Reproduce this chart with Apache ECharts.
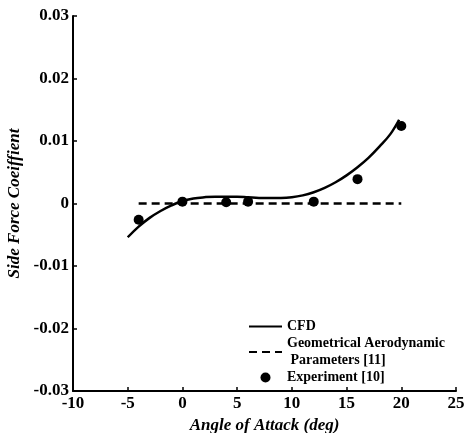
<!DOCTYPE html>
<html>
<head>
<meta charset="utf-8">
<script src="https://cdn.jsdelivr.net/npm/echarts@6/dist/echarts.min.js"></script>
<style>
html,body{margin:0;padding:0;background:#fff;}
#chart{width:466px;height:433px;}
</style>
</head>
<body>
<div id="chart"></div>
<script>
// CFD curve
const cfdAlpha = [-5,-4,-3,-2,-1,0,1,2,3,4,5,6,7,8,9,10,11,12,13,14,15,16,17,18,19,19.8];
const cfdCy = [-0.0054,-0.0037,-0.0023,-0.0012,-0.0003,0.0004,0.0008,0.0010,0.0011,0.0011,0.0011,0.0010,0.0009,0.0009,0.0009,0.0010,0.0013,0.0018,0.0025,0.0034,0.0045,0.0058,0.0073,0.0091,0.0111,0.0134];
// Geometrical aerodynamic parameters
const geoAlpha = [-4, 20];
const geoCy = [0, 0];
// Experiment
const expAlpha = [-4, 0, 4, 6, 12, 16, 20];
const expCy = [-0.0026, 0.0003, 0.0002, 0.0003, 0.0003, 0.0039, 0.0124];

const xTicks = [-10,-5,0,5,10,15,20,25];
const yTicks = [-0.03,-0.02,-0.01,0,0.01,0.02,0.03];

const FONT = 'Liberation Serif';
const chart = echarts.init(document.getElementById('chart'));
const zip = (a,b)=>a.map((v,i)=>[v,b[i]]);

chart.setOption({
  animation:false,
  backgroundColor:'#fff',
  grid:{left:73,right:10,top:16,bottom:42,outerBoundsMode:'none',containLabel:false},
  xAxis:{
    type:'value',min:-10,max:25,interval:5,
    axisLine:{show:true,onZero:false,lineStyle:{color:'#000',width:2}},
    axisTick:{show:true,inside:true,length:4,lineStyle:{color:'#000',width:1.5}},
    splitLine:{show:false},
    axisLabel:{color:'#000',fontFamily:FONT,fontWeight:'bold',fontSize:17,margin:4,
      formatter:v=>String(v)},
    name:'Angle of Attack (deg)',nameLocation:'middle',nameGap:24,
    nameTextStyle:{color:'#000',fontFamily:FONT,fontWeight:'bold',fontStyle:'italic',fontSize:17}
  },
  yAxis:{
    type:'value',min:-0.03,max:0.03,interval:0.01,
    axisLine:{show:true,onZero:false,lineStyle:{color:'#000',width:2}},
    axisTick:{show:true,inside:true,length:4,lineStyle:{color:'#000',width:1.5}},
    splitLine:{show:false},
    axisLabel:{color:'#000',fontFamily:FONT,fontWeight:'bold',fontSize:17,margin:4,
      formatter:v=>{const r=Math.round(v*100)/100; return r===0?'0':r.toFixed(2);}},
    name:'Side Force Coeiffient',nameLocation:'middle',nameGap:47,
    nameTextStyle:{color:'#000',fontFamily:FONT,fontWeight:'bold',fontStyle:'italic',fontSize:17}
  },
  legend:{
    orient:'vertical',left:248,top:318,itemWidth:33,itemHeight:10,itemGap:0,padding:0,
    textStyle:{color:'#000',fontFamily:FONT,fontWeight:'bold',fontSize:14,lineHeight:17},
    data:[
      {name:'CFD',itemStyle:{opacity:0}},
      {name:'Geometrical Aerodynamic\n Parameters [11]',itemStyle:{opacity:0}},
      {name:'Experiment [10]'}
    ]
  },
  series:[
    {name:'CFD',type:'line',data:zip(cfdAlpha,cfdCy),smooth:0.4,symbol:'none',
      lineStyle:{color:'#000',width:2.5},itemStyle:{color:'#000'}},
    {name:'Geometrical Aerodynamic\n Parameters [11]',type:'line',data:zip(geoAlpha,geoCy),symbol:'none',
      lineStyle:{color:'#000',width:2.5,type:[8,5]},itemStyle:{color:'#000'}},
    {name:'Experiment [10]',type:'scatter',data:zip(expAlpha,expCy),symbol:'circle',symbolSize:10,
      itemStyle:{color:'#000',opacity:1}}
  ]
});
</script>
</body>
</html>
